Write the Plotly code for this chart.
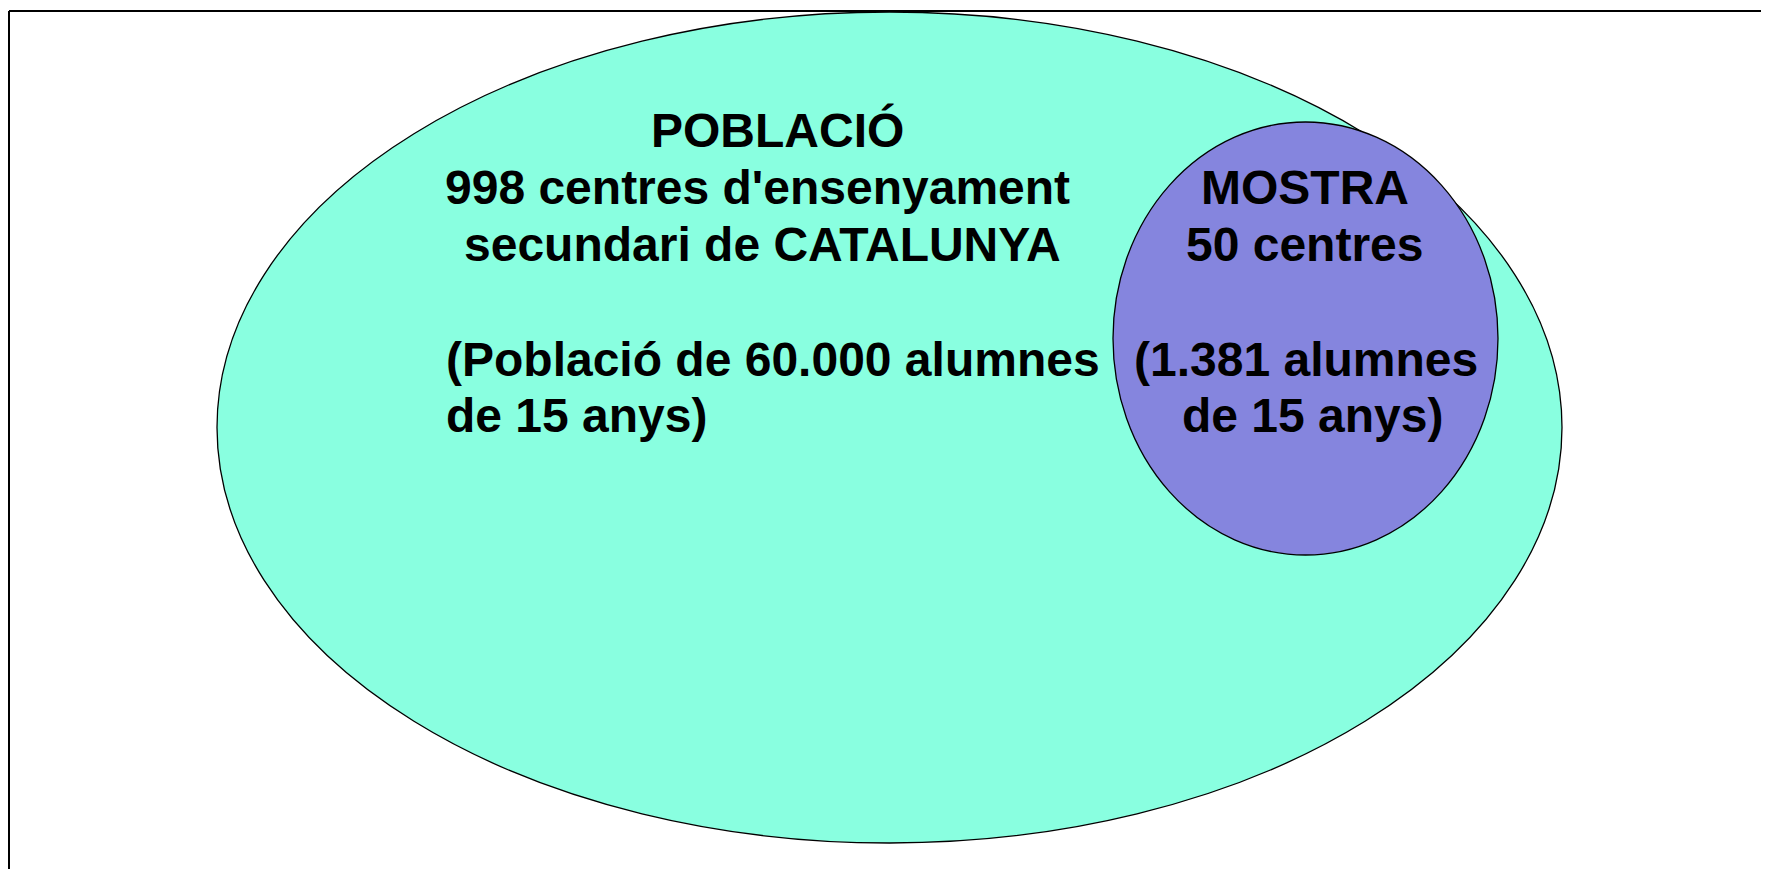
import plotly.graph_objects as go

# ---- data ----
population_centres = 998
population_students = "60.000"
sample_centres = 50
sample_students = "1.381"
region = "CATALUNYA"

pop_lines_centered = [
    "POBLACIÓ",
    f"{population_centres} centres d'ensenyament",
    f"secundari de {region}",
]
pop_lines_left = [
    f"(Població de {population_students} alumnes",
    "de 15 anys)",
]
sample_lines = [
    "MOSTRA",
    f"{sample_centres} centres",
    f"({sample_students} alumnes",
    "de 15 anys)",
]

WIN_W, WIN_H = 1769, 869
OFF = 8  # default page margin of the html body
W, H = WIN_W - OFF, WIN_H - OFF
FONT = dict(family="Liberation Sans, Arial, sans-serif", size=48, color="black")

fig = go.Figure()
fig.add_trace(go.Scatter(x=[OFF, WIN_W], y=[OFF, WIN_H], mode="markers",
                         marker=dict(opacity=0), hoverinfo="skip", showlegend=False))

shapes = [
    # frame
    dict(type="line", xref="x", yref="y", x0=9, x1=WIN_W, y0=11, y1=11,
         line=dict(color="black", width=2)),
    dict(type="line", xref="x", yref="y", x0=9, x1=9, y0=11, y1=WIN_H,
         line=dict(color="black", width=2)),
    # population ellipse
    dict(type="circle", xref="x", yref="y", x0=217, x1=1562, y0=12, y1=843,
         fillcolor="#89FFE0", line=dict(color="black", width=1.3)),
    # sample ellipse
    dict(type="circle", xref="x", yref="y", x0=1113, x1=1498, y0=122, y1=555,
         fillcolor="#8585DE", line=dict(color="black", width=1.3)),
]

annotations = []
def add(text, x, baseline, anchor):
    annotations.append(dict(text=f"<b>{text}</b>", x=x, y=baseline - 16.6,
                            xref="x", yref="y", xanchor=anchor, yanchor="middle",
                            showarrow=False, font=FONT))

pop_centered_x = [777, 757, 762]
pop_base = [147, 204, 261, 376, 432]
for t, x, b in zip(pop_lines_centered, pop_centered_x, pop_base[:3]):
    add(t, x, b, "center")
for t, b in zip(pop_lines_left, pop_base[3:]):
    add(t, 444, b, "left")

sample_x = [1305, 1305, 1306, 1312]
sample_base = [204, 261, 376, 432]
for t, x, b in zip(sample_lines, sample_x, sample_base):
    add(t, x, b, "center")

fig.update_layout(
    width=W, height=H,
    margin=dict(l=0, r=0, t=0, b=0),
    paper_bgcolor="white", plot_bgcolor="white",
    xaxis=dict(range=[OFF, WIN_W], visible=False, fixedrange=True),
    yaxis=dict(range=[WIN_H, OFF], visible=False, fixedrange=True),
    shapes=shapes, annotations=annotations, showlegend=False,
)

fig.write_html("out.html", config={"displayModeBar": False})
